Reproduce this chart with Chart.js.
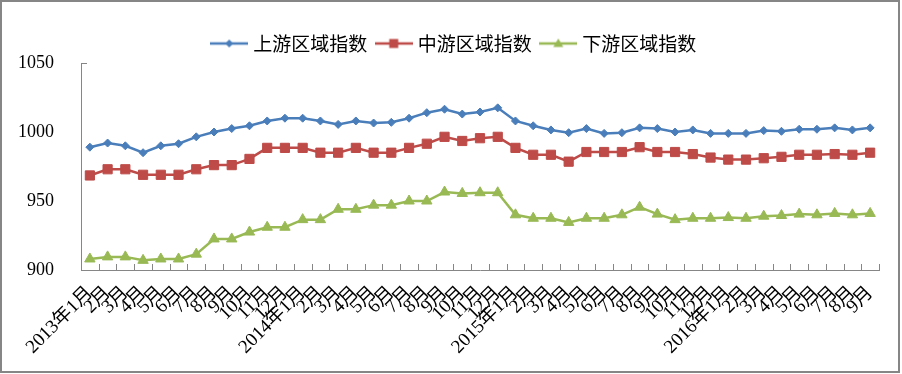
<!DOCTYPE html>
<html><head><meta charset="utf-8">
<script src="https://cdn.jsdelivr.net/npm/chart.js@4.4.0/dist/chart.umd.min.js"></script>
<style>html,body{margin:0;padding:0;background:#fff}#wrap{width:902px;height:374px}</style>
</head><body><div id="wrap"><canvas id="c" width="902" height="374"></canvas></div>
<script>
const categories = ["2013年1月","2月","3月","4月","5月","6月","7月","8月","9月","10月","11月","12月",
  "2014年1月","2月","3月","4月","5月","6月","7月","8月","9月","10月","11月","12月",
  "2015年1月","2月","3月","4月","5月","6月","7月","8月","9月","10月","11月","12月",
  "2016年1月","2月","3月","4月","5月","6月","7月","8月","9月"];
const seriesNames = ["上游区域指数","中游区域指数","下游区域指数"];
const upstream = [989,992,990,985,990,991.5,996.5,1000,1002.5,1004.5,1008,1010,
  1010,1008,1005.5,1008,1006.5,1007,1010,1014,1016.5,1013,1014.5,1017.5,
  1008,1004.5,1001.5,999.5,1002.5,999,999.5,1003,1002.5,1000,1001.5,999,
  999,999,1001,1000.5,1002,1002,1003,1001.5,1003];
const midstream = [968.5,973,973,969,969,969,973,976,976,980.5,988.5,988.5,
  988.5,985,985,988.5,985,985,988.5,991.5,996.5,993.5,995.5,996.5,
  988.5,983.5,983.5,978.5,985.5,985.5,985.5,989,985.5,985.5,984,981.5,
  980,980,981,982,983.5,983.5,984,983.5,985];
const downstream = [908,909.5,909.5,907,908,908,911.5,922.5,922.5,927.5,931,931,
  936.5,936.5,944,944,947,947,950,950,956.5,955.5,956,956,
  940,937.5,937.5,934.5,937.5,937.5,940,945.5,940.5,936.5,937.5,937.5,
  938,937.5,939,939.5,940.5,940,941,940,941];
const yTicks = [900,950,1000,1050];
const colors = ["#4a7ebb","#be4b48","#98b954"];
const styles = ["rectRot","rect","triangle"];
const radii = [4,6.5,6];

function legendImg(i){
  const cv = document.createElement('canvas'); cv.width = 38; cv.height = 16;
  const g = cv.getContext('2d');
  g.strokeStyle = colors[i]; g.lineWidth = 2.5;
  g.beginPath(); g.moveTo(0,8); g.lineTo(38,8); g.stroke();
  g.fillStyle = colors[i];
  g.beginPath();
  if(i===0){ g.moveTo(19,4); g.lineTo(23,8); g.lineTo(19,12); g.lineTo(15,8); }
  else if(i===1){ g.rect(14.5,3.5,9,9); }
  else { g.moveTo(19,3); g.lineTo(24,11.5); g.lineTo(14,11.5); }
  g.closePath(); g.fill();
  return cv;
}
const legendImgs = [0,1,2].map(legendImg);

const legendShift = {
  id:'legendShift',
  afterLayout(chart){
    if(chart.legend){ chart.legend.left += 16; chart.legend.right += 16; }
  }
};

const decor = {
  id:'decor',
  afterDraw(chart){
    const {ctx, chartArea:a, scales:{x,y}} = chart;
    ctx.save();
    ctx.strokeStyle = '#868686'; ctx.lineWidth = 1;
    ctx.beginPath();
    for(let i=0;i<=categories.length;i++){
      const px = Math.round(x.getPixelForValue(i-0.5))+0.5;
      ctx.moveTo(px, a.bottom); ctx.lineTo(px, a.bottom-6);
    }
    const ty = Math.round(y.getPixelForValue(yTicks[yTicks.length-1]))+0.5;
    ctx.moveTo(a.left, ty); ctx.lineTo(a.left+6, ty);
    ctx.stroke();
    ctx.lineWidth = 2;
    ctx.strokeRect(1,1,chart.width-4,chart.height-3);
    ctx.restore();
  }
};

const serif = '"Liberation Serif","Noto Sans CJK SC",serif';
new Chart(document.getElementById('c'), {
  type:'line',
  data:{
    labels: categories,
    datasets: [upstream, midstream, downstream].map((d,i)=>({
      label: seriesNames[i], data: d,
      borderColor: colors[i], backgroundColor: colors[i],
      borderWidth: 2.5, pointStyle: styles[i], pointRadius: radii[i],
      pointBorderWidth: 1, pointBorderColor: colors[i], pointBackgroundColor: colors[i],
      tension: 0, fill: false
    }))
  },
  options:{
    responsive:false, animation:false, devicePixelRatio:1,
    layout:{padding:{top:22,right:23,bottom:0,left:0}},
    plugins:{
      tooltip:{enabled:false},
      legend:{
        position:'top', align:'center',
        labels:{
          usePointStyle:true, pointStyleWidth:29, boxHeight:19, padding:12,
          color:'#000', font:{family:'"Noto Sans CJK SC",sans-serif', size:19},
          generateLabels(chart){
            const items = Chart.defaults.plugins.legend.labels.generateLabels(chart);
            items.forEach((it,i)=>{ it.pointStyle = legendImgs[i]; });
            return items;
          }
        }
      }
    },
    scales:{
      x:{
        offset:true,
        grid:{display:false, drawTicks:false},
        border:{display:true, color:'#868686', width:1},
        ticks:{autoSkip:false, maxRotation:45, minRotation:45, padding:12, color:'#000',
          font:{family:serif, size:19}},
        afterFit(s){ s.height = 104; }
      },
      y:{
        min:900, max:1050,
        grid:{display:false, drawTicks:false},
        border:{display:true, color:'#868686', width:1},
        ticks:{stepSize:50, padding:27, color:'#000', font:{family:serif, size:18},
          callback:(v)=>String(v)},
        afterFit(s){ s.width = 81; }
      }
    }
  },
  plugins:[legendShift, decor]
});
</script></body></html>
